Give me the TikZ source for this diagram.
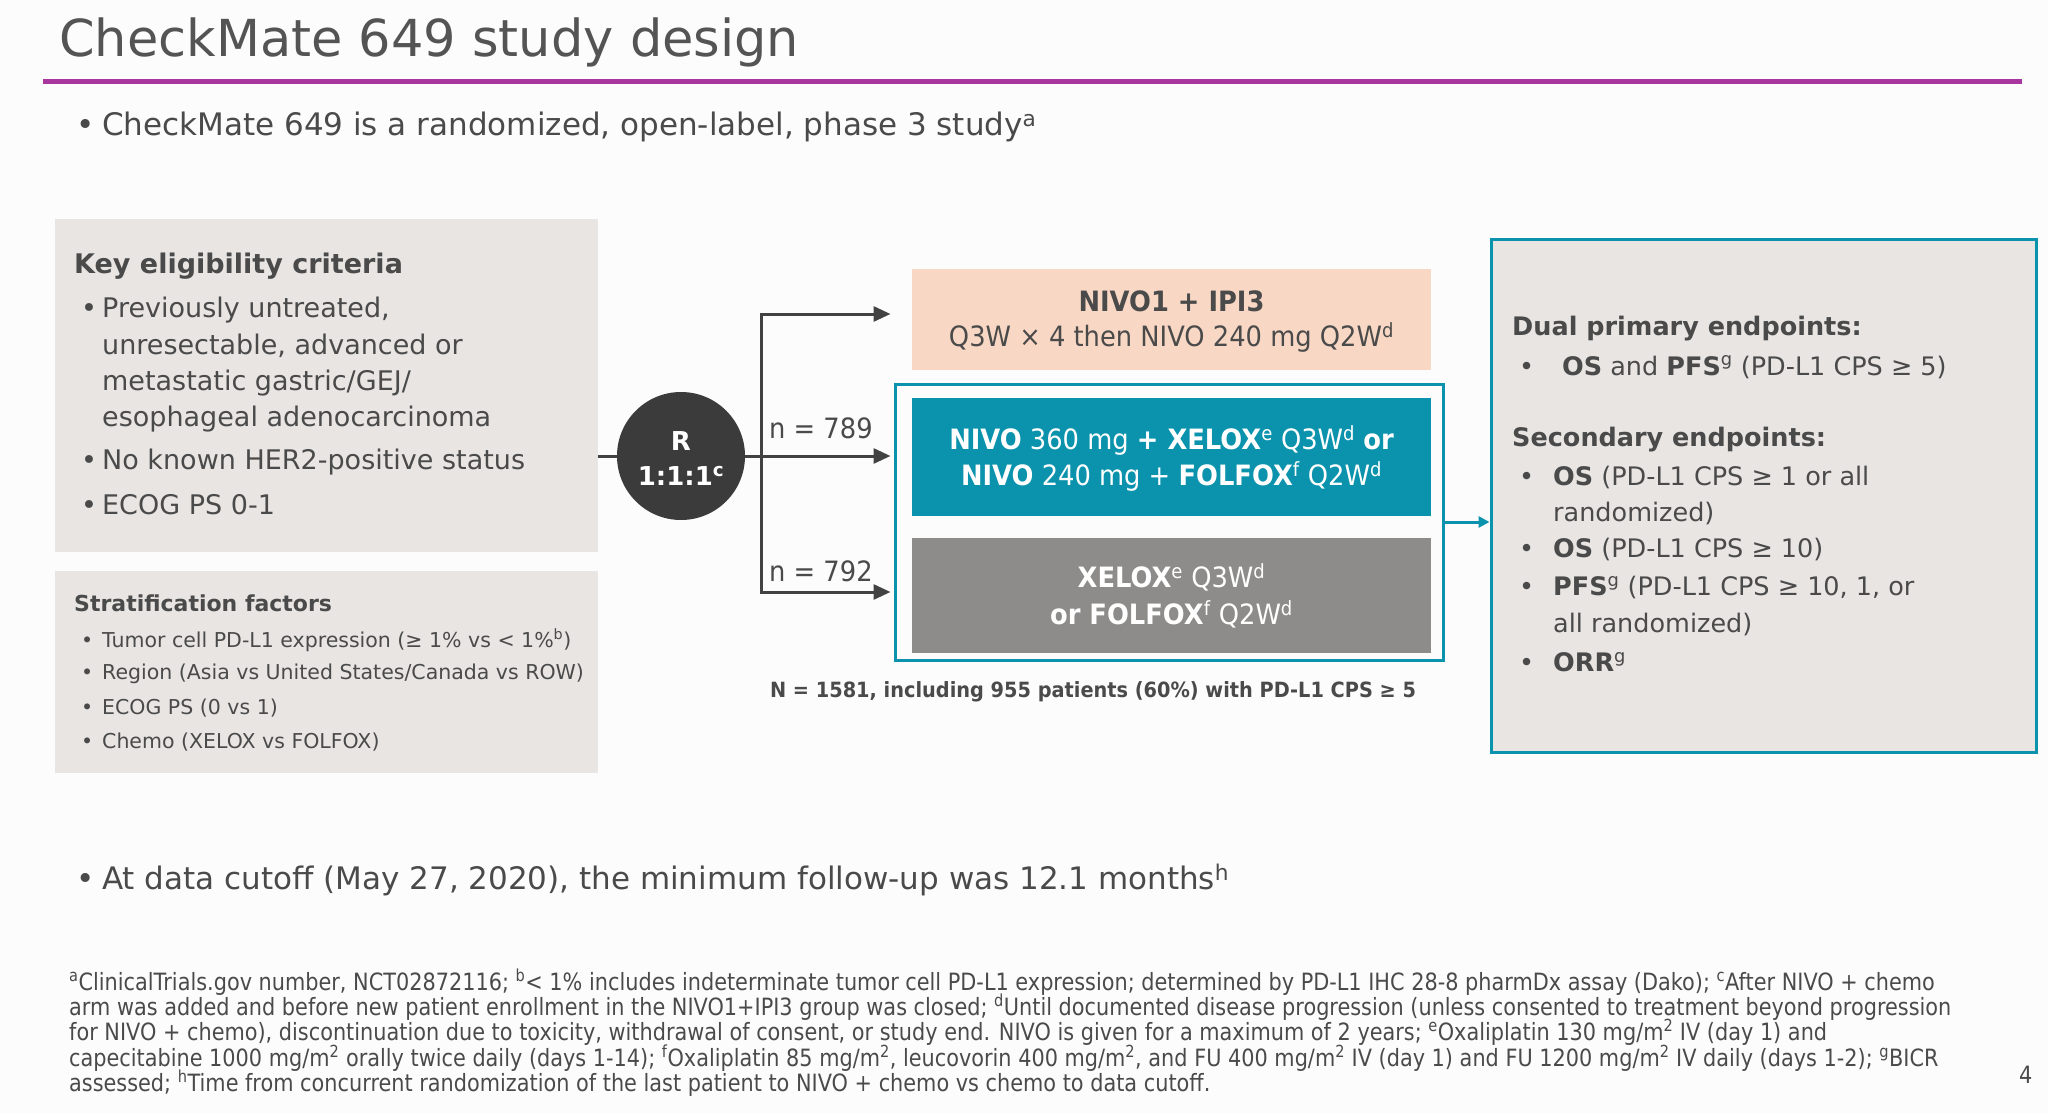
\documentclass[tikz,border=0pt]{standalone}
\usepackage{fontspec}
\setmainfont{DejaVu Sans}
\newfontfamily\narrowfont[FakeStretch=0.92]{DejaVu Sans}
\newfontfamily\notefont[FakeStretch=0.875]{DejaVu Sans}
\usetikzlibrary{positioning}
\usetikzlibrary{arrows.meta}

\definecolor{slidebg}{HTML}{FCFCFC}
\definecolor{slidetext}{HTML}{4A4A4A}
\definecolor{titlegray}{HTML}{545454}
\definecolor{accentpurple}{HTML}{A8369E}
\definecolor{boxgray}{HTML}{E8E5E2}
\definecolor{peachbox}{HTML}{F8D7C4}
\definecolor{armteal}{HTML}{0B93AD}
\definecolor{armgray}{HTML}{8D8C8B}
\definecolor{circlegray}{HTML}{3B3B3B}
\definecolor{flowgray}{HTML}{424242}

\newcommand{\slidebullet}[1]{\makebox[#1][l]{\textbullet}}

\tikzset{
  body/.style={anchor=west, inner sep=0pt, text=slidetext, font=\fontsize{27}{32}\selectfont},
  bodyhead/.style={body, font=\fontsize{27}{32}\selectfont\bfseries},
  strat/.style={body, font=\fontsize{20.5}{25}\selectfont},
  strathead/.style={body, font=\fontsize{22}{26}\selectfont\bfseries},
  ends/.style={body, font=\fontsize{25.5}{30}\selectfont},
  armtxt/.style={anchor=center, inner sep=0pt, font=\narrowfont\fontsize{28}{33}\selectfont},
  note/.style={anchor=west, inner sep=0pt, text=slidetext, font=\notefont\fontsize{23.8}{25}\selectfont},
  panel/.style={fill=boxgray, draw=none, inner sep=0pt},
  armbox/.style={draw=none, inner sep=0pt, minimum width=519pt},
  flow/.style={draw=flowgray, line width=3pt, line join=miter},
}

\begin{document}
\begin{tikzpicture}[x=1pt,y=-1pt]
\useasboundingbox (0,0) rectangle (2048,1113);
\fill[slidebg] (0,0) rectangle (2048,1113);

% title and rule
\node[anchor=base west, inner sep=0pt, text=titlegray, font=\fontsize{51}{60}\selectfont] (title) at (59,57) {CheckMate 649 study design};
\draw[accentpurple, line width=5pt] (43,82) -- (2022,82);
\node[body, font=\fontsize{31}{36}\selectfont] (intro) at (76,127) {\slidebullet{26pt}CheckMate 649 is a randomized, open-label, phase 3 study\textsuperscript{a}};

% left panels
\node[panel, minimum width=543pt, minimum height=333pt] (Elig) at (326.5,385.5) {};
\node[panel, minimum width=543pt, minimum height=202pt] (Strat) at (326.5,672) {};

\node[bodyhead] (e0) at (74,266) {Key eligibility criteria};
\node[body] (e1) at (81,310) {\slidebullet{21pt}Previously untreated,};
\node[body] (e2) at (102,346) {unresectable, advanced or};
\node[body] (e3) at (102,383) {metastatic gastric/GEJ/};
\node[body] (e4) at (102,419) {esophageal adenocarcinoma};
\node[body] (e5) at (81,462) {\slidebullet{21pt}No known HER2-positive status};
\node[body] (e6) at (81,505) {\slidebullet{21pt}ECOG PS 0-1};

\node[strathead] (s0) at (74,603) {Stratification factors};
\node[strat] (s1) at (81,640) {\slidebullet{21pt}Tumor cell PD-L1 expression (≥ 1\% vs < 1\%\textsuperscript{b})};
\node[strat] (s2) at (81,674) {\slidebullet{21pt}Region (Asia vs United States/Canada vs ROW)};
\node[strat] (s3) at (81,708) {\slidebullet{21pt}ECOG PS (0 vs 1)};
\node[strat] (s4) at (81,742) {\slidebullet{21pt}Chemo (XELOX vs FOLFOX)};

% treatment arms
\node[armbox, fill=peachbox, minimum height=101pt] (Ipi) at (1171.5,319.5) {};
\node[draw=armteal, line width=3pt, inner sep=0pt, minimum width=548pt, minimum height=276pt] (Arms) at (1169,522) {};
\node[armbox, fill=armteal, minimum height=118pt] (NivoChemo) at (1171.5,457) {};
\node[armbox, fill=armgray, minimum height=115pt] (Chemo) at (1171.5,595.5) {};

\node[armtxt, text=slidetext, font=\narrowfont\bfseries\fontsize{28}{33}\selectfont] (i1) at (1171.5,301) {NIVO1 + IPI3};
\node[armtxt, text=slidetext] (i2) at (1171.5,337) {Q3W × 4 then NIVO 240 mg Q2W\textsuperscript{d}};
\node[armtxt, text=white] (n1) at (1171.5,440) {\textbf{NIVO} 360 mg \textbf{+ XELOX}\textsuperscript{e} Q3W\textsuperscript{d} \textbf{or}};
\node[armtxt, text=white] (n2) at (1171.5,476) {\textbf{NIVO} 240 mg + \textbf{FOLFOX}\textsuperscript{f} Q2W\textsuperscript{d}};
\node[armtxt, text=white] (c1) at (1171.5,577) {\textbf{XELOX}\textsuperscript{e} Q3W\textsuperscript{d}};
\node[armtxt, text=white] (c2) at (1171.5,614) {\textbf{or FOLFOX}\textsuperscript{f} Q2W\textsuperscript{d}};

\node[armtxt, anchor=west, text=slidetext] (k1) at (769,428) {n = 789};
\node[armtxt, anchor=west, text=slidetext] (k2) at (769,571) {n = 792};
\node[armtxt, text=slidetext, font=\narrowfont\bfseries\fontsize{21}{25}\selectfont] (total) at (1093,692) {N = 1581, including 955 patients (60\%) with PD-L1 CPS ≥ 5};

% randomization
\node[circle, fill=circlegray, minimum size=128pt, inner sep=0pt] (R) at (681,456) {};
\node[armtxt, text=white, font=\bfseries\fontsize{26}{30}\selectfont] (r1) at (681,441) {R};
\node[armtxt, text=white, font=\bfseries\fontsize{26}{30}\selectfont] (r2) at (681,476) {1:1:1\textsuperscript{c}};
\coordinate (jt) at (761,314);
\coordinate (jb) at (761,592);
\draw[flow] (Elig.east |- R.west) -- (R.west);
\draw[flow, {Triangle[length=17pt,width=15pt]}-{Triangle[length=17pt,width=15pt]}, shorten <=3pt, shorten >=3pt] (jt -| Arms.west) -- (jt) -- (jb) -- (jb -| Arms.west);
\draw[flow, -{Triangle[length=17pt,width=15pt]}, shorten >=3pt] (R.east) -- (R.east -| Arms.west);

% endpoints
\node[fill=boxgray, draw=armteal, line width=3pt, inner sep=0pt, minimum width=545pt, minimum height=513pt] (Ends) at (1763.5,495.5) {};
\draw[armteal, line width=3pt, -{Triangle[length=11pt,width=11pt]}] (Arms.east) -- (Arms.east -| Ends.west);

\node[ends, font=\fontsize{25.5}{30}\selectfont\bfseries] (p0) at (1512,329) {Dual primary endpoints:};
\node[ends] (p1) at (1519,367) {\slidebullet{43pt}\textbf{OS} and \textbf{PFS}\textsuperscript{g} (PD-L1 CPS ≥ 5)};
\node[ends, font=\fontsize{25.5}{30}\selectfont\bfseries] (q0) at (1512,440) {Secondary endpoints:};
\node[ends] (q1) at (1519,477) {\slidebullet{34pt}\textbf{OS} (PD-L1 CPS ≥ 1 or all};
\node[ends] (q2) at (1553,513) {randomized)};
\node[ends] (q3) at (1519,550) {\slidebullet{34pt}\textbf{OS} (PD-L1 CPS ≥ 10)};
\node[ends] (q4) at (1519,588) {\slidebullet{34pt}\textbf{PFS}\textsuperscript{g} (PD-L1 CPS ≥ 10, 1, or};
\node[ends] (q5) at (1553,624) {all randomized)};
\node[ends] (q6) at (1519,662) {\slidebullet{34pt}\textbf{ORR}\textsuperscript{g}};

% cutoff and footnotes
\node[body, font=\fontsize{31}{36}\selectfont] (cutoff) at (76,880) {\slidebullet{26pt}At data cutoff (May 27, 2020), the minimum follow-up was 12.1 months\textsuperscript{h}};

\node[note] (f1) at (69,982) {\textsuperscript{a}ClinicalTrials.gov number, NCT02872116; \textsuperscript{b}< 1\% includes indeterminate tumor cell PD-L1 expression; determined by PD-L1 IHC 28-8 pharmDx assay (Dako); \textsuperscript{c}After NIVO + chemo};
\node[note] (f2) at (69,1007) {arm was added and before new patient enrollment in the NIVO1+IPI3 group was closed; \textsuperscript{d}Until documented disease progression (unless consented to treatment beyond progression};
\node[note] (f3) at (69,1032) {for NIVO + chemo), discontinuation due to toxicity, withdrawal of consent, or study end. NIVO is given for a maximum of 2 years; \textsuperscript{e}Oxaliplatin 130 mg/m\textsuperscript{2} IV (day 1) and};
\node[note] (f4) at (69,1058) {capecitabine 1000 mg/m\textsuperscript{2} orally twice daily (days 1-14); \textsuperscript{f}Oxaliplatin 85 mg/m\textsuperscript{2}, leucovorin 400 mg/m\textsuperscript{2}, and FU 400 mg/m\textsuperscript{2} IV (day 1) and FU 1200 mg/m\textsuperscript{2} IV daily (days 1-2); \textsuperscript{g}BICR};
\node[note] (f5) at (69,1083) {assessed; \textsuperscript{h}Time from concurrent randomization of the last patient to NIVO + chemo vs chemo to data cutoff.};
\node[note] (page) at (2019,1075) {4};

\end{tikzpicture}
\end{document}
